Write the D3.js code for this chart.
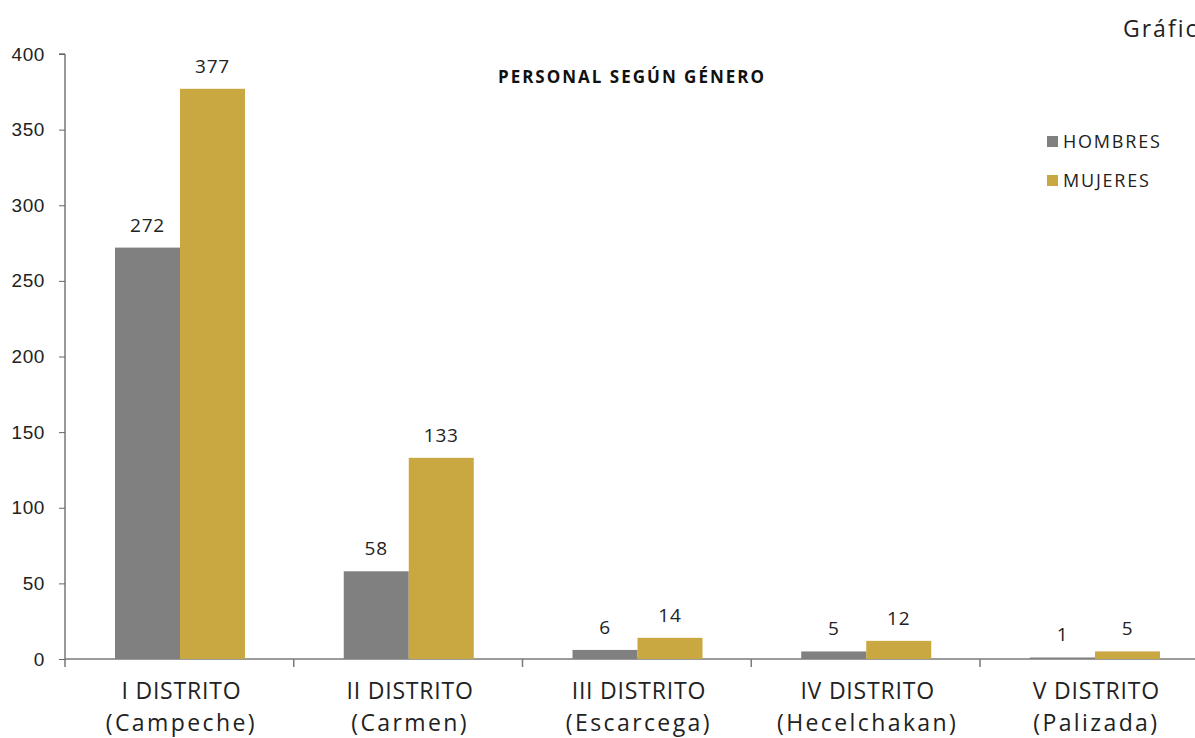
<!DOCTYPE html>
<html>
<head>
<meta charset="utf-8">
<script src="https://cdn.jsdelivr.net/npm/d3@7"></script>
<style>
  body { margin: 0; background: #fff; }
  svg { display: block; font-family: "Open Sans", Lato, sans-serif; }
</style>
</head>
<body>
<div id="chart"></div>
<script>
// data
const districts = ["I DISTRITO|(Campeche)", "II DISTRITO|(Carmen)", "III DISTRITO|(Escarcega)",
  "IV DISTRITO|(Hecelchakan)", "V DISTRITO|(Palizada)"];
const hombres = [272, 58, 6, 5, 1];
const mujeres = [377, 133, 14, 12, 5];
const seriesNames = ["HOMBRES", "MUJERES"];
const seriesColors = ["#808080", "#C9A741"];
const yTicks = [0, 50, 100, 150, 200, 250, 300, 350, 400];

const width = 1195, height = 738;
const plotLeft = 65, plotTop = 54, plotBottom = 659;

const svg = d3.select("#chart").append("svg")
  .attr("width", width)
  .attr("height", height);

let x = d3.scaleBand()
  .domain(districts)
  .range([plotLeft, plotLeft + 5 * 228.75])
  .paddingInner(0)
  .paddingOuter(0);

let y = d3.scaleLinear()
  .domain([0, 400])
  .range([plotBottom, plotTop]);

// y axis
let yAxis = svg.append("g")
  .attr("transform", `translate(${plotLeft},0)`)
  .call(d3.axisLeft(y).tickValues(yTicks).tickSize(6).tickPadding(14));
yAxis.select(".domain").attr("stroke", "#333").attr("d", `M-6,${plotTop}H0V${plotBottom + 8}`);
yAxis.selectAll(".tick line").attr("stroke", "#666");
yAxis.selectAll(".tick text")
  .attr("font-size", 19)
  .attr("letter-spacing", 0.6)
  .attr("fill", "#222");

// x axis line and separator ticks
svg.append("line")
  .attr("x1", plotLeft).attr("x2", width)
  .attr("y1", plotBottom).attr("y2", plotBottom)
  .attr("stroke", "#7a7a7a").attr("stroke-width", 1.5);
districts.forEach((d, i) => {
  if (i == 0) return;
  svg.append("line")
    .attr("x1", x(d)).attr("x2", x(d))
    .attr("y1", plotBottom).attr("y2", plotBottom + 8)
    .attr("stroke", "#7a7a7a").attr("stroke-width", 1.5);
});

// bars
let inner = d3.scaleBand()
  .domain(seriesNames)
  .range([50, 180]);

let groups = svg.append("g").selectAll("g")
  .data(districts)
  .join("g")
  .attr("transform", (d) => `translate(${x(d)},0)`);

[hombres, mujeres].forEach((vals, s) => {
  groups.append("rect")
    .attr("x", inner(seriesNames[s]))
    .attr("width", inner.bandwidth())
    .attr("y", (d, i) => y(vals[i]))
    .attr("height", (d, i) => plotBottom - y(vals[i]))
    .attr("fill", seriesColors[s]);

  groups.append("text")
    .attr("x", inner(seriesNames[s]) + inner.bandwidth() / 2)
    .attr("y", (d, i) => y(vals[i]) - 16)
    .attr("text-anchor", "middle")
    .attr("font-size", 19)
    .attr("letter-spacing", 0.8)
    .attr("fill", "#222")
    .text((d, i) => vals[i]);
});

// category labels (two lines)
groups.each(function(d) {
  let parts = d.split("|");
  let t = d3.select(this).append("text")
    .attr("text-anchor", "middle")
    .attr("font-size", 23)
    .attr("fill", "#222");
  parts.forEach((p, k) => {
    t.append("tspan")
      .attr("x", x.bandwidth() / 2 + 2)
      .attr("y", 699 + k * 32)
      .attr("letter-spacing", k == 0 ? 0.8 : 2.4)
      .text(p);
  });
});

// title
svg.append("text")
  .attr("x", 632).attr("y", 83)
  .attr("text-anchor", "middle")
  .attr("font-size", 17)
  .attr("font-weight", "bold")
  .attr("letter-spacing", 2)
  .attr("fill", "#111")
  .text("PERSONAL SEGÚN GÉNERO");

// corner label, cut off by the page edge
svg.append("text")
  .attr("x", 1123).attr("y", 37)
  .attr("font-size", 23)
  .attr("letter-spacing", 2)
  .attr("fill", "#222")
  .text("Gráfica");

// legend
let legend = svg.append("g").selectAll("g")
  .data(seriesNames)
  .join("g")
  .attr("transform", (d, i) => `translate(1047,${141 + i * 39})`);
legend.append("rect")
  .attr("x", 0).attr("y", -5)
  .attr("width", 11).attr("height", 11)
  .attr("fill", (d, i) => seriesColors[i]);
legend.append("text")
  .attr("x", 16).attr("y", 7)
  .attr("font-size", 18)
  .attr("letter-spacing", 1.8)
  .attr("fill", "#222")
  .text((d) => d);
</script>
</body>
</html>
